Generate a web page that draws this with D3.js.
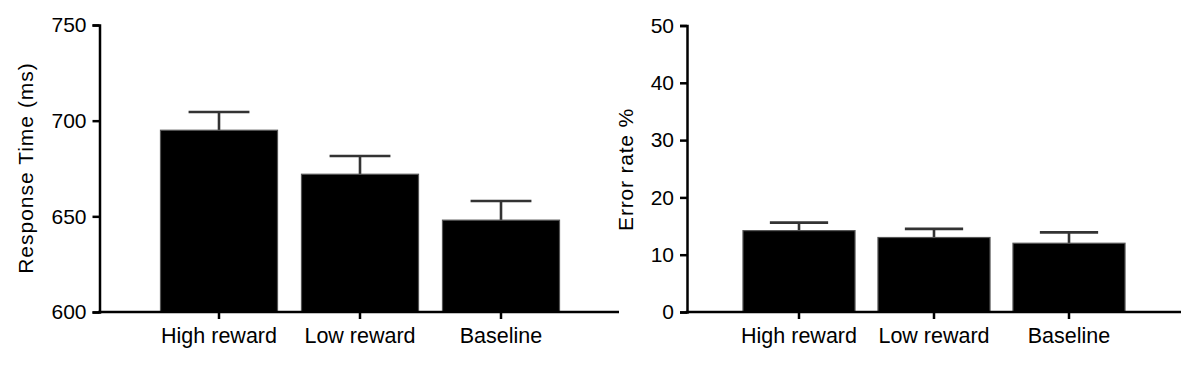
<!DOCTYPE html>
<html>
<head>
<meta charset="utf-8">
<script src="https://cdn.jsdelivr.net/npm/d3@7"></script>
<style>
  html, body { margin: 0; padding: 0; background: #fff; }
  svg { display: block; }
  text { font-family: "Liberation Sans", Arial, sans-serif; }
</style>
</head>
<body>
<svg id="chart" width="1200" height="368"></svg>
<script>
// ---- Data ----
const categories = ["High reward", "Low reward", "Baseline"];
const rtMeans = [695, 672, 648];
const rtErrors = [9.5, 9.5, 10];
const rtTicks = [600, 650, 700, 750];
const rtLabel = "Response Time (ms)";

const errMeans = [14.2, 13.0, 12.0];
const errErrors = [1.4, 1.5, 1.9];
const errTicks = [0, 10, 20, 30, 40, 50];
const errLabel = "Error rate %";

// ---- Drawing ----
const svg = d3.select("#chart");
const TICK_FONT = 21;
const XLAB_FONT = 21.5;
const TITLE_FONT = 21;

function panel(cfg) {
  const g = svg.append("g");
  const y = d3.scaleLinear().domain(cfg.domain).range([cfg.bottom, cfg.top]);
  const x = d3.scaleBand().domain(categories).range(cfg.bandRange)
    .paddingInner(0.17).paddingOuter(0.085);

  const data = categories.map((c, i) => ({ c, v: cfg.means[i], e: cfg.errors[i] }));

  // error bars (upper only)
  const capW = x.bandwidth() * 0.52;
  const eb = g.append("g");
  eb.selectAll("line.stem").data(data).join("line")
    .attr("x1", d => x(d.c) + x.bandwidth() / 2)
    .attr("x2", d => x(d.c) + x.bandwidth() / 2)
    .attr("y1", d => y(d.v))
    .attr("y2", d => y(d.v + d.e))
    .attr("stroke", "#333").attr("stroke-width", 2.6);
  eb.selectAll("line.cap").data(data).join("line")
    .attr("x1", d => x(d.c) + x.bandwidth() / 2 - capW / 2)
    .attr("x2", d => x(d.c) + x.bandwidth() / 2 + capW / 2)
    .attr("y1", d => y(d.v + d.e))
    .attr("y2", d => y(d.v + d.e))
    .attr("stroke", "#333").attr("stroke-width", 2.6);

  // bars
  g.append("g").selectAll("rect").data(data).join("rect")
    .attr("x", d => x(d.c))
    .attr("width", x.bandwidth())
    .attr("y", d => y(d.v))
    .attr("height", d => y(cfg.domain[0]) - y(d.v))
    .attr("fill", "#000")
    .attr("stroke", "#555")
    .attr("stroke-width", 1.2);

  // y axis
  const ya = g.append("g")
    .attr("transform", `translate(${cfg.axisX},0)`)
    .call(d3.axisLeft(y).tickValues(cfg.ticks).tickSizeOuter(0).tickSize(7).tickPadding(6));
  ya.select(".domain").attr("stroke", "#000").attr("stroke-width", 2.5);
  ya.selectAll(".tick line").attr("stroke", "#000").attr("stroke-width", 2.5);
  ya.selectAll(".tick text").attr("font-size", TICK_FONT).attr("fill", "#000")
    .style("font-family", '"Liberation Sans", Arial, sans-serif');

  // x axis
  const xa = g.append("g")
    .attr("transform", `translate(0,${cfg.bottom})`)
    .call(d3.axisBottom(x).tickSizeOuter(0).tickSize(7).tickPadding(8.5));
  xa.select(".domain").remove();
  xa.append("line")
    .attr("x1", cfg.axisX - 1.25).attr("x2", cfg.axisEnd)
    .attr("y1", 0).attr("y2", 0)
    .attr("stroke", "#000").attr("stroke-width", 2.5);
  xa.selectAll(".tick line").attr("stroke", "#000").attr("stroke-width", 2.5);
  xa.selectAll(".tick text").attr("font-size", XLAB_FONT).attr("fill", "#000")
    .style("font-family", '"Liberation Sans", Arial, sans-serif');

  // y title
  g.append("text")
    .attr("transform", `translate(${cfg.titleX},${cfg.titleY}) rotate(-90)`)
    .attr("text-anchor", "middle")
    .attr("font-size", TITLE_FONT)
    .attr("letter-spacing", cfg.titleSpacing)
    .attr("fill", "#000")
    .text(cfg.label);
}

panel({
  domain: [600, 750], ticks: rtTicks, means: rtMeans, errors: rtErrors,
  top: 25, bottom: 312, axisX: 99.5, axisEnd: 619,
  bandRange: [148.5, 571.5], titleX: 33, titleY: 168, titleSpacing: 1, label: rtLabel
});

panel({
  domain: [0, 50], ticks: errTicks, means: errMeans, errors: errErrors,
  top: 25.5, bottom: 312, axisX: 687, axisEnd: 1181,
  bandRange: [731.5, 1136.5], titleX: 633, titleY: 169.5, titleSpacing: 0.8, label: errLabel
});
</script>
</body>
</html>
